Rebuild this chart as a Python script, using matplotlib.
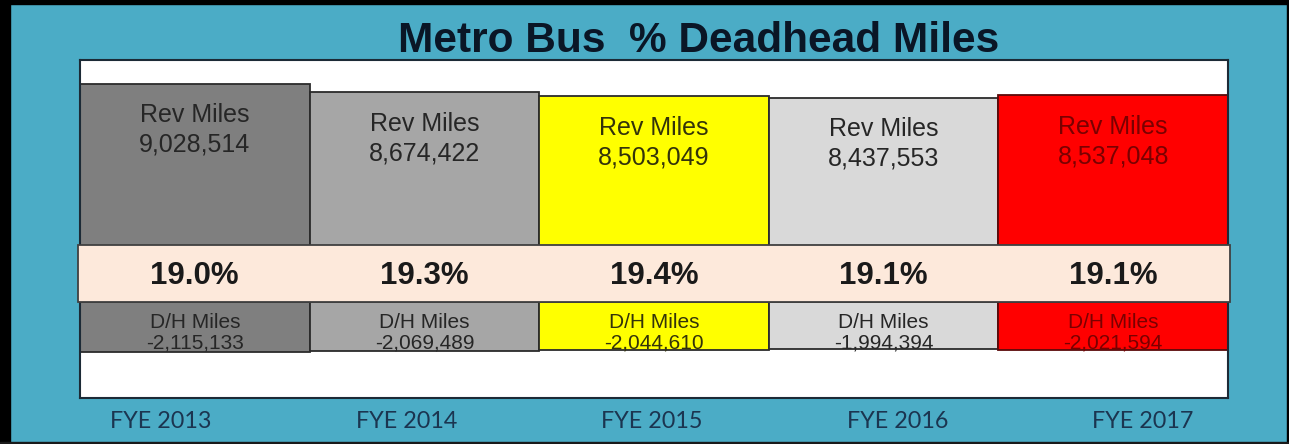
import matplotlib
matplotlib.use("Agg")
import matplotlib.pyplot as plt
from matplotlib.patches import Rectangle

# ---- data ----
years = ["FYE 2013", "FYE 2014", "FYE 2015", "FYE 2016", "FYE 2017"]
rev_miles = [9028514, 8674422, 8503049, 8437553, 8537048]
dh_miles = [-2115133, -2069489, -2044610, -1994394, -2021594]
dh_pct = [19.0, 19.3, 19.4, 19.1, 19.1]
bar_colors = ["#7f7f7f", "#a6a6a6", "#ffff00", "#d9d9d9", "#ff0000"]
text_colors = ["#262626", "#262626", "#33330a", "#262626", "#7a0000"]
edge_colors = ["#2b2b2b", "#2b2b2b", "#2b2b2b", "#2b2b2b", "#5a0a0a"]

W, H = 1289, 444
fig = plt.figure(figsize=(W / 100, H / 100), dpi=100)
teal = "#4bacc6"
fig.patch.set_facecolor(teal)

# outer black frame
def frect(x0, y0, w, h, color):
    fig.patches.append(Rectangle((x0 / W, 1 - (y0 + h) / H), w / W, h / H,
                                 transform=fig.transFigure, color=color,
                                 zorder=0))
frect(0, 0, 10, H, "black")
frect(0, 0, W, 4, "black")
frect(W - 2, 0, 2, H, "black")
frect(0, H - 2, W, 2, "#1a1a1a")

# plot area (white)
ax_l, ax_t, ax_r, ax_b = 80, 60, 1228, 398
ax = fig.add_axes([ax_l / W, 1 - ax_b / H, (ax_r - ax_l) / W, (ax_b - ax_t) / H])
ax.set_facecolor("white")
for s in ax.spines.values():
    s.set_color("#1c2a36")
    s.set_linewidth(1.5)
ax.set_xticks([])
ax.set_yticks([])

scale = 23.5  # px per million
zero_px = 296
ax.set_xlim(-0.5, 4.5)
ax.set_ylim((zero_px - ax_b) / scale, (zero_px - ax_t) / scale)

band_top = (zero_px - 245) / scale
band_bot = (zero_px - 302) / scale

x = list(range(len(years)))
rev_m = [v / 1e6 for v in rev_miles]
dh_m = [v / 1e6 for v in dh_miles]

ax.bar(x, rev_m, width=1.0, bottom=0, color=bar_colors,
       edgecolor=edge_colors, linewidth=1.3, zorder=2)
ax.bar(x, dh_m, width=1.0, bottom=band_bot, color=bar_colors,
       edgecolor=edge_colors, linewidth=1.3, zorder=2)

# peach band
ax.add_patch(Rectangle((-0.51, band_bot), 5.02, band_top - band_bot,
                       facecolor="#fde9db", edgecolor="#404040",
                       linewidth=1.3, zorder=3, clip_on=False))

font = "Liberation Sans"
for i in x:
    ax.annotate(f"Rev Miles\n{rev_miles[i]:,}", xy=(i, rev_m[i]),
                xytext=(0, -14), textcoords="offset points",
                ha="center", va="top", fontsize=18, family=font,
                color=text_colors[i], linespacing=1.3, zorder=4)
    ax.text(i, (band_top + band_bot) / 2 - 0.1, f"{dh_pct[i]:.1f}%",
            ha="center", va="center", fontsize=22.5, fontweight="bold",
            family=font, color="#1a1a1a", zorder=4)
    ax.annotate(f"D/H Miles\n{dh_miles[i]:,}", xy=(i, band_bot),
                xytext=(0, -8), textcoords="offset points",
                ha="center", va="top", fontsize=15, family=font,
                color=text_colors[i], linespacing=1.08, zorder=4)

# title
fig.text(699 / W, 1 - 52 / H, "Metro Bus  % Deadhead Miles", ha="center",
         va="baseline", fontsize=30.5, fontweight="bold", family=font,
         color="#0a1626")

# category labels below the plot area
lab_x0, lab_dx = 161, 245.5
for i, lab in enumerate(years):
    fig.text((lab_x0 + lab_dx * i) / W, 1 - 421 / H, lab, ha="center",
             va="center", fontsize=16.8, family="Lato", color="#1b3550")

fig.savefig("out.png", dpi=100, facecolor=fig.get_facecolor())
